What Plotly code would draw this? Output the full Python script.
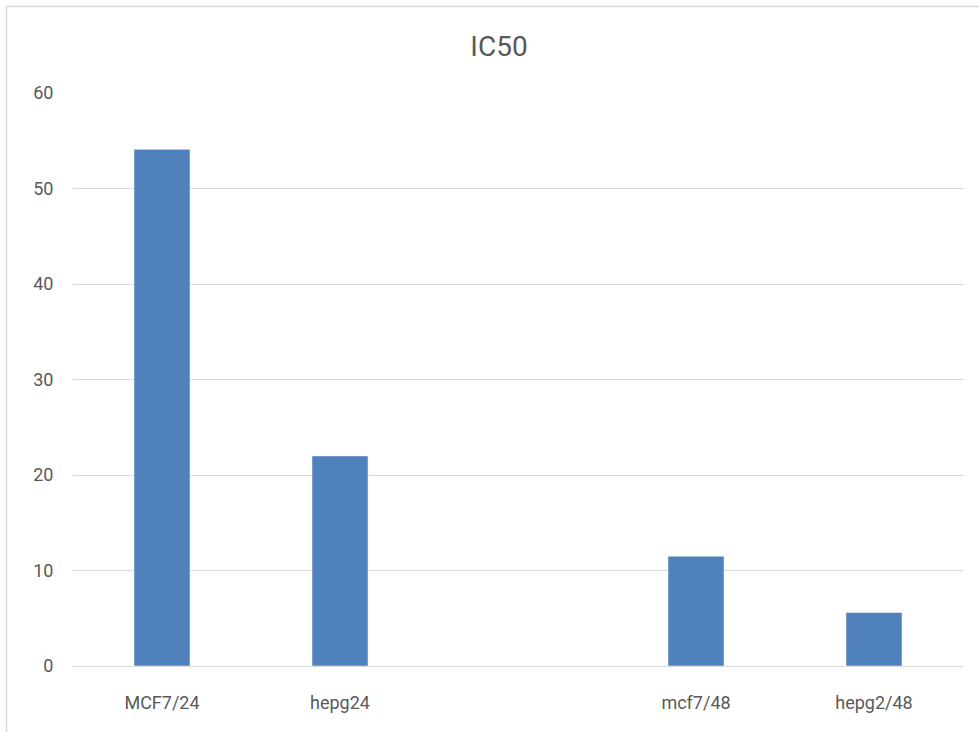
import plotly.graph_objects as go

# IC50 values per cell line / time point (a blank slot separates the 24 h and 48 h groups)
categories = ["MCF7/24", "hepg24", " ", "mcf7/48", "hepg2/48"]
ic50_values = [54.1, 22.0, None, 11.5, 5.6]
y_ticks = [0, 10, 20, 30, 40, 50, 60]

W, H = 979, 732
M_L, M_R, M_T, M_B = 73, 16, 93, 66
plot_w = W - M_L - M_R
plot_h = H - M_T - M_B

font_family = "Roboto, Open Sans, sans-serif"
text_color = "#595959"
grid_color = "#D9D9D9"

fig = go.Figure(
    go.Bar(
        x=categories,
        y=ic50_values,
        marker=dict(color="#4F81BD", line=dict(color="rgba(255,255,255,0.5)", width=1)),
        hoverinfo="x+y",
    )
)

# chart frame: thin border on the left and top edges of the canvas
px_to_x = lambda p: (p - M_L) / plot_w
px_to_y = lambda p: (H - M_B - p) / plot_h
fig.add_shape(type="rect", xref="paper", yref="paper",
              x0=px_to_x(6.5), x1=px_to_x(W + 20),
              y0=px_to_y(H + 20), y1=px_to_y(6.5),
              line=dict(color=grid_color, width=1.5), fillcolor="rgba(0,0,0,0)", layer="below")

fig.update_layout(
    width=W, height=H,
    margin=dict(l=M_L, r=M_R, t=M_T, b=M_B),
    paper_bgcolor="white",
    plot_bgcolor="white",
    bargap=0.685,
    showlegend=False,
    title=dict(text="IC50", x=499 / W, xanchor="center", xref="container",
               y=1 - 46 / H, yanchor="middle",
               font=dict(family=font_family, size=28, color=text_color)),
    font=dict(family=font_family, size=18, color=text_color),
)

fig.update_xaxes(
    type="category",
    categoryorder="array", categoryarray=categories,
    showgrid=False, showline=False, zeroline=False,
    ticks="outside", ticklen=20, tickcolor="rgba(0,0,0,0)",
    tickfont=dict(family=font_family, size=18, color=text_color),
)

fig.update_yaxes(
    range=[0, 60],
    tickvals=y_ticks,
    showgrid=True, gridcolor=grid_color, gridwidth=1,
    zeroline=True, zerolinecolor=grid_color, zerolinewidth=1,
    showline=False,
    ticks="outside", ticklen=15, tickcolor="rgba(0,0,0,0)",
    tickfont=dict(family=font_family, size=18, color=text_color),
)

fig.write_html("out.html")
